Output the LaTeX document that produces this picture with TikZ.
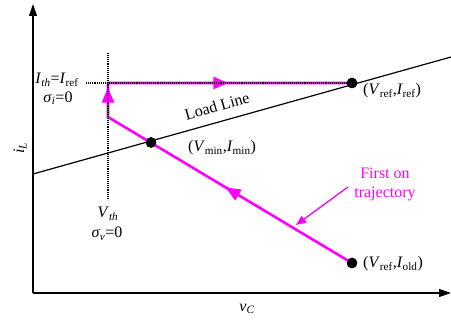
\documentclass[tikz,border=0pt]{standalone}
\usepackage{fontspec}
\setmainfont{Liberation Serif}
\usetikzlibrary{arrows.meta,decorations.markings}
\definecolor{mag}{RGB}{255,0,255}
\newcommand{\sbs}[1]{\textsubscript{#1}}
\newcommand{\itl}[1]{\textit{#1}}
\begin{document}
\begin{tikzpicture}[x=1pt,y=-1pt,
  lbl/.style={inner sep=0pt,font=\fontsize{16}{19}\selectfont},
  axisline/.style={line width=1.2pt,-{Triangle[length=12pt,width=8pt]}},
  loadline/.style={line width=1.2pt},
  traj/.style={mag,line width=2.6pt,line join=miter,
    postaction={decorate,decoration={markings,
      mark=at position 0.262 with {\arrow{Triangle[length=15pt,width=12pt]}},
      mark=at position 0.558 with {\arrow{Triangle[length=15pt,width=12pt]}},
      mark=at position 0.78 with {\arrow{Triangle[length=15pt,width=12pt]}}}}},
  guide/.style={densely dotted,line width=1.1pt},
  dotnode/.style={circle,fill=black,inner sep=0pt,minimum size=10.5pt},
  pointer/.style={mag,line width=1.3pt,-{Triangle[length=10pt,width=8pt]}}]
\useasboundingbox (0,0) rectangle (451,320);
% axes
\coordinate (O) at (33,293);
\coordinate (ytop) at (33,4);
\coordinate (xend) at (451,293);
\draw[axisline] (O) -- (ytop);
\draw[axisline] (O) -- (xend);
\node[lbl,rotate=90] (iL) at (20,148) {\itl{i}\sbs{\itl{L}}};
\node[lbl] (vC) at (247,309) {\itl{v}\sbs{\itl{C}}};
% load line
\coordinate (L1) at (33,174);
\coordinate (L2) at (451,57);
\draw[loadline] (L1) -- (L2);
\node[lbl,rotate=16] (ll) at (217,106) {Load Line};
% points
\node[dotnode] (ref) at (352,83) {};
\node[dotnode] (min) at (151,142.5) {};
\node[dotnode] (old) at (352,263) {};
\coordinate (c1) at (108,117);
\coordinate (c2) at (108,83);
% trajectory
\draw[traj] (old.center) -- (c1) -- (c2) -- (ref.center);
% guides
\coordinate (g1) at (108,53);
\coordinate (g2) at (108,200);
\coordinate (g3) at (86,83);
\draw[guide] (g1) -- (g2);
\draw[guide] (g3) -- (ref.center);
\node[dotnode] at (ref) {};
\node[dotnode] at (min) {};
\node[dotnode] at (old) {};
% labels
\node[lbl] (ith) at (57,80) {\itl{I}\sbs{\itl{th}}=\itl{I}\sbs{ref}};
\node[lbl] (si) at (58,98) {\itl{σ}\sbs{\itl{i}}=0};
\node[lbl] (vth) at (108,214) {\itl{V}\sbs{\itl{th}}};
\node[lbl] (sv) at (107,234) {\itl{σ}\sbs{\itl{v}}=0};
\node[lbl,anchor=west] (lref) at (363,91) {(\itl{V}\sbs{ref},\itl{I}\sbs{ref})};
\node[lbl,anchor=west] (lmin) at (188,148) {(\itl{V}\sbs{min},\itl{I}\sbs{min})};
\node[lbl,anchor=west] (lold) at (363,264) {(\itl{V}\sbs{ref},\itl{I}\sbs{old})};
\node[lbl,mag,align=center] (first) at (385,184) {First on\\trajectory};
\coordinate (p1) at (348,187);
\coordinate (p2) at (296,225);
\draw[pointer] (p1) -- (p2);
\end{tikzpicture}
\end{document}
